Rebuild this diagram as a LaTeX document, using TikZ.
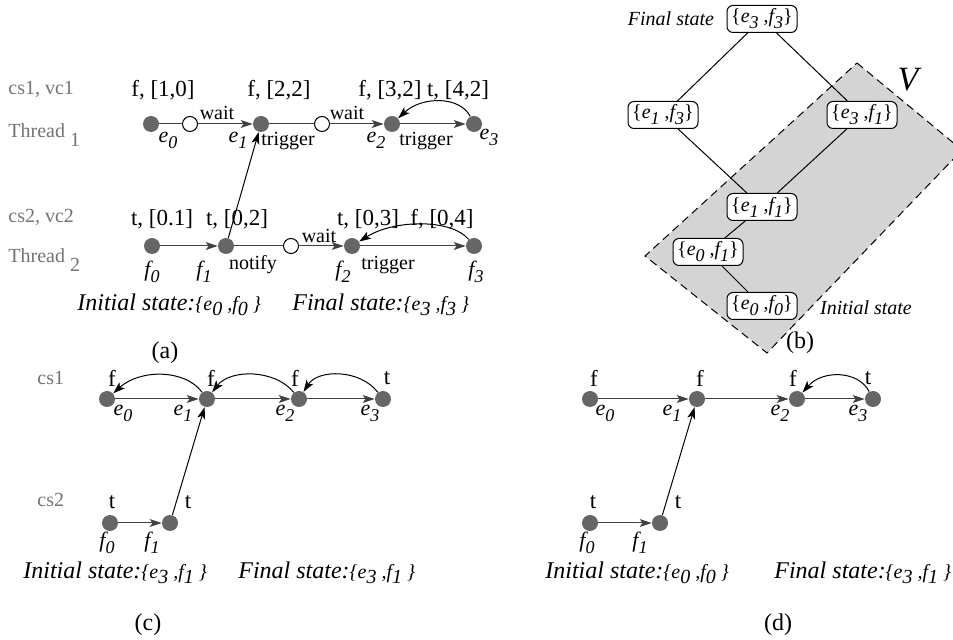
\documentclass[tikz,border=0pt]{standalone}
\usepackage{fontspec}
\setmainfont{Liberation Serif}
\usetikzlibrary{arrows.meta}
\definecolor{dotgray}{gray}{0.40}
\definecolor{txtgray}{gray}{0.45}
\definecolor{regiongray}{gray}{0.83}
\definecolor{linegray}{gray}{0.25}
\newcommand\ix[2]{{\itshape #1\raisebox{-3pt}{\fontsize{9}{9}\selectfont #2}}}
\newcommand\stt[4]{{\fontsize{10}{10}\selectfont\itshape\{#1\raisebox{-2.5pt}{#2} ,#3\raisebox{-2.5pt}{#4} \}}}
\begin{document}
\begin{tikzpicture}[x=0.5pt,y=-0.5pt,
  dot/.style={circle,fill=dotgray,inner sep=0pt,minimum size=8pt},
  odot/.style={circle,draw=black,fill=white,line width=0.5pt,inner sep=0pt,minimum size=7.5pt},
  lbl/.style={inner sep=0pt,font=\fontsize{11.5}{12}\selectfont},
  wlbl/.style={inner sep=0pt,font=\fontsize{10}{12}\selectfont},
  elbl/.style={inner sep=0pt,font=\fontsize{11}{12}\selectfont},
  glbl/.style={inner sep=0pt,text=txtgray,font=\fontsize{10}{12}\selectfont,anchor=base west},
  stl/.style={inner sep=0pt,anchor=west,font=\fontsize{12}{13}\selectfont\itshape},
  captxt/.style={inner sep=0pt,font=\fontsize{12}{13}\selectfont},
  arr/.style={-{Stealth[length=6pt,width=4pt,inset=1.5pt]},line width=0.5pt,draw=black},
  ln/.style={line width=0.5pt,draw=linegray},
  sln/.style={-{Stealth[length=6pt,width=4pt,inset=1.5pt]},line width=0.5pt,draw=linegray},
  sbox/.style={draw,rounded corners=3pt,fill=white,line width=0.5pt,minimum width=35pt,minimum height=13.5pt,inner sep=1pt,font=\fontsize{10}{10}\selectfont},
]
\useasboundingbox (0,0) rectangle (953,640);

% ---------------- panel (a) ----------------
\node[glbl] (gcs1) at (8,95) {cs1, vc1};
\node[glbl] (gth1) at (8,138) {Thread \raisebox{-4.5pt}{1}};
\node[glbl] (gcs2) at (8,223) {cs2, vc2};
\node[glbl] (gth2) at (8,263) {Thread \raisebox{-4.5pt}{2}};

\node[dot] (a0) at (151,124) {};
\node[odot] (aw1) at (190,124) {};
\node[dot] (a1) at (261,124) {};
\node[odot] (aw2) at (322,124) {};
\node[dot] (a2) at (392,124) {};
\node[dot] (a3) at (474,124) {};
\draw[ln] (a0) -- (aw1);
\draw[sln] (aw1) -- (a1);
\draw[ln] (a1) -- (aw2);
\draw[sln] (aw2) -- (a2);
\draw[sln] (a2) -- (a3);
\draw[arr] (a3) .. controls (460,96) and (422,96) .. (a2);

\node[dot] (b0) at (152,246) {};
\node[dot] (b1) at (226,246) {};
\node[odot] (bw) at (291,246) {};
\node[dot] (b2) at (352,246) {};
\node[dot] (b3) at (474,246) {};
\draw[sln] (b0) -- (b1);
\draw[ln] (b1) -- (bw);
\draw[sln] (bw) -- (b2);
\draw[sln] (b2) -- (b3);
\draw[arr] (b3) .. controls (452,219) and (395,219) .. (b2);
\draw[arr] (b1) -- (a1);

\node[lbl] (la0) at (163,90) {f, [1,0]};
\node[lbl] (la1) at (279,90) {f, [2,2]};
\node[lbl] (la2) at (390,90) {f, [3,2]};
\node[lbl] (la3) at (458,90) {t, [4,2]};
\node[lbl] (lb0) at (162,219) {t, [0.1]};
\node[lbl] (lb1) at (237,219) {t, [0,2]};
\node[lbl] (lb2) at (368,219) {t, [0,3]};
\node[lbl] (lb3) at (442,219) {f, [0,4]};

\node[wlbl] (w1) at (217,113) {wait};
\node[wlbl] (w2) at (347,113) {wait};
\node[wlbl] (w3) at (319,236) {wait};
\node[wlbl] (t1) at (288,141) {trigger};
\node[wlbl] (t2) at (426,141) {trigger};
\node[wlbl] (n1) at (253,265) {notify};
\node[wlbl] (t3) at (388,265) {trigger};

\node[elbl] (ea0) at (168,140) {\ix{e}{0}};
\node[elbl] (ea1) at (238,140) {\ix{e}{1}};
\node[elbl] (ea2) at (376,140) {\ix{e}{2}};
\node[elbl] (ea3) at (489,137) {\ix{e}{3}};
\node[elbl] (fb0) at (152,272) {\ix{f}{0}};
\node[elbl] (fb1) at (204,272) {\ix{f}{1}};
\node[elbl] (fb2) at (343,272) {\ix{f}{2}};
\node[elbl] (fb3) at (476,272) {\ix{f}{3}};

\node[stl] (sa1) at (77,305) {Initial state:\stt{e}{0}{f}{0}};
\node[stl] (sa2) at (292,305) {Final state:\stt{e}{3}{f}{3}};
\node[captxt] (capa) at (165,353) {(a)};

% ---------------- panel (b) ----------------
\begin{scope}
\clip (0,0) rectangle (953,640);
\fill[regiongray] (857,63) -- (962,150) -- (767,353) -- (645,256) -- cycle;
\draw[line width=0.5pt,dash pattern=on 4pt off 2.5pt] (857,63) -- (962,150) -- (767,353) -- (645,256) -- cycle;
\end{scope}
\node[sbox] (s33) at (762,19) {\{\ix{e}{3} ,\ix{f}{3}\}};
\node[sbox] (s13) at (663,115) {\{\ix{e}{1} ,\ix{f}{3}\}};
\node[sbox] (s31) at (862,115) {\{\ix{e}{3} ,\ix{f}{1}\}};
\node[sbox] (s11) at (762,207) {\{\ix{e}{1} ,\ix{f}{1}\}};
\node[sbox] (s01) at (708,252) {\{\ix{e}{0} ,\ix{f}{1}\}};
\node[sbox] (s00) at (762,306) {\{\ix{e}{0} ,\ix{f}{0}\}};
\draw[line width=0.5pt] (s33) -- (s13);
\draw[line width=0.5pt] (s33) -- (s31);
\draw[line width=0.5pt] (s13) -- (s11);
\draw[line width=0.5pt] (s31) -- (s11);
\draw[line width=0.5pt] (s11) -- (s01);
\draw[line width=0.5pt] (s01) -- (s00);
\node[inner sep=0pt,font=\fontsize{10}{12}\selectfont\itshape] (fsb) at (671,19) {Final state};
\node[inner sep=0pt,font=\fontsize{10}{12}\selectfont\itshape] (isb) at (866,308) {Initial state};
\node[inner sep=0pt,font=\fontsize{17}{18}\selectfont\itshape] (vv) at (908,80) {V};
\node[captxt] (capb) at (800,343) {(b)};

% ---------------- panel (c) ----------------
\node[glbl] (gc1) at (37,385) {cs1};
\node[glbl] (gc2) at (37,507) {cs2};
\node[dot] (c0) at (107,399) {};
\node[dot] (c1) at (207,399) {};
\node[dot] (c2) at (299,399) {};
\node[dot] (c3) at (383,399) {};
\node[dot] (d0) at (110,523) {};
\node[dot] (d1) at (170,523) {};
\draw[sln] (c0) -- (c1);
\draw[sln] (c1) -- (c2);
\draw[sln] (c2) -- (c3);
\draw[arr] (c1) .. controls (185,369) and (140,369) .. (c0);
\draw[arr] (c2) .. controls (275,369) and (230,369) .. (c1);
\draw[arr] (c3) .. controls (360,369) and (318,369) .. (c2);
\draw[sln] (d0) -- (d1);
\draw[arr] (d1) -- (c1);
\node[lbl] (lc0) at (112,378) {f};
\node[lbl] (lc1) at (211,378) {f};
\node[lbl] (lc2) at (295,378) {f};
\node[lbl] (lc3) at (387,378) {t};
\node[lbl] (ld0) at (112,502) {t};
\node[lbl] (ld1) at (188,502) {t};
\node[elbl] (ec0) at (123,413) {\ix{e}{0}};
\node[elbl] (ec1) at (183,413) {\ix{e}{1}};
\node[elbl] (ec2) at (285,413) {\ix{e}{2}};
\node[elbl] (ec3) at (370,413) {\ix{e}{3}};
\node[elbl] (fd0) at (107,543) {\ix{f}{0}};
\node[elbl] (fd1) at (152,543) {\ix{f}{1}};
\node[stl] (sc1) at (23,573) {Initial state:\stt{e}{3}{f}{1}};
\node[stl] (sc2) at (238,573) {Final state:\stt{e}{3}{f}{1}};
\node[captxt] (capc) at (148,625) {(c)};

% ---------------- panel (d) ----------------
\node[dot] (g0) at (590,399) {};
\node[dot] (g1) at (697,399) {};
\node[dot] (g2) at (797,399) {};
\node[dot] (g3) at (873,399) {};
\node[dot] (h0) at (590,523) {};
\node[dot] (h1) at (660,523) {};
\draw[sln] (g0) -- (g1);
\draw[sln] (g1) -- (g2);
\draw[sln] (g2) -- (g3);
\draw[arr] (g3) .. controls (858,370) and (822,370) .. (g2);
\draw[sln] (h0) -- (h1);
\draw[arr] (h1) -- (g1);
\node[lbl] (lg0) at (594,378) {f};
\node[lbl] (lg1) at (700,378) {f};
\node[lbl] (lg2) at (793,378) {f};
\node[lbl] (lg3) at (868,378) {t};
\node[lbl] (lh0) at (593,502) {t};
\node[lbl] (lh1) at (678,502) {t};
\node[elbl] (eg0) at (605,413) {\ix{e}{0}};
\node[elbl] (eg1) at (672,413) {\ix{e}{1}};
\node[elbl] (eg2) at (780,413) {\ix{e}{2}};
\node[elbl] (eg3) at (858,413) {\ix{e}{3}};
\node[elbl] (fh0) at (587,543) {\ix{f}{0}};
\node[elbl] (fh1) at (640,543) {\ix{f}{1}};
\node[stl] (sd1) at (545,573) {Initial state:\stt{e}{0}{f}{0}};
\node[stl] (sd2) at (774,573) {Final state:\stt{e}{3}{f}{1}};
\node[captxt] (capd) at (778,625) {(d)};
\end{tikzpicture}
\end{document}
